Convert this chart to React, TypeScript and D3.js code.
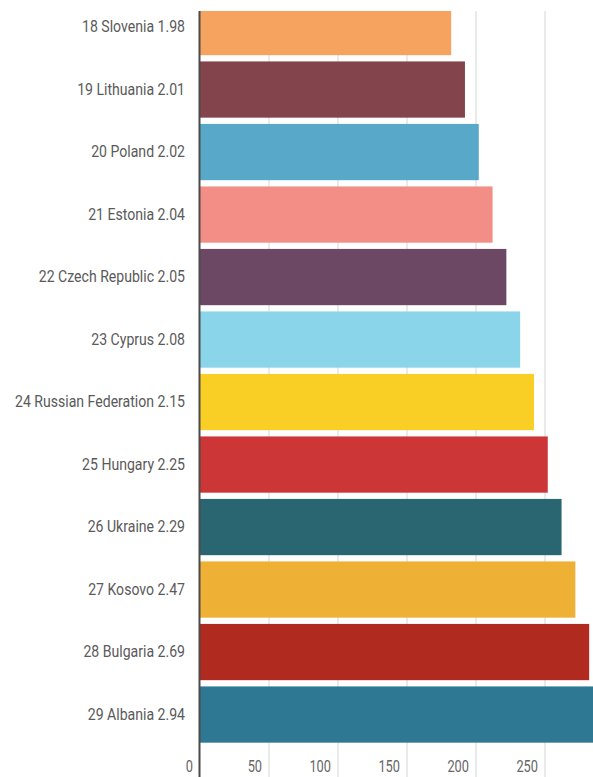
import React from "react";
import * as d3 from "d3";

const labels = [
  "18 Slovenia 1.98",
  "19 Lithuania 2.01",
  "20 Poland 2.02",
  "21 Estonia 2.04",
  "22 Czech Republic 2.05",
  "23 Cyprus 2.08",
  "24 Russian Federation 2.15",
  "25 Hungary 2.25",
  "26 Ukraine 2.29",
  "27 Kosovo 2.47",
  "28 Bulgaria 2.69",
  "29 Albania 2.94",
];
const values = [182, 192, 202, 212, 222, 232, 242, 252, 262, 272, 282, 292];
const colors = [
  "#f5a35f",
  "#83454b",
  "#58a9c9",
  "#f38e86",
  "#6d4864",
  "#8ad5ea",
  "#f9cf25",
  "#cc3636",
  "#2a6671",
  "#eeb136",
  "#b12a20",
  "#2e7893",
];
const tickValues = [0, 50, 100, 150, 200, 250];

const W = 593;
const H = 777;
const FONT = "Roboto, 'Liberation Sans', sans-serif";

export default function App() {
  const x = d3.scaleLinear().domain([0, 300]).range([200, 614]);
  const y = d3
    .scaleBand<string>()
    .domain(labels)
    .range([-4.2, 745.8])
    .paddingInner(0.1)
    .paddingOuter(0.05);

  return (
    <div style={{ position: "absolute", left: 0, top: 0, width: W, height: H, overflow: "hidden", background: "#fff" }}>
      <svg width={W} height={H} style={{ display: "block" }}>
        <defs>
          <clipPath id="plotclip">
            <rect x={0} y={11} width={W} height={H - 11} />
          </clipPath>
        </defs>
        <g clipPath="url(#plotclip)">
          {tickValues.slice(1).map((t) => (
            <line key={t} x1={x(t)} x2={x(t)} y1={11} y2={H} stroke="#dcdcdc" strokeWidth={1.2} />
          ))}
          {labels.map((l, i) => (
            <rect
              key={l}
              x={x(0)}
              y={y(l)}
              width={x(values[i]) - x(0)}
              height={y.bandwidth()}
              fill={colors[i]}
            />
          ))}
          {labels.map((l) => (
            <text
              key={"t" + l}
              transform={`translate(185,${(y(l) as number) + y.bandwidth() / 2}) scale(0.88,1)`}
              textAnchor="end"
              dominantBaseline="central"
              fontFamily={FONT}
              fontSize={16}
              fill="#5a5a5a"
            >
              {l}
            </text>
          ))}
          <line x1={199.5} x2={199.5} y1={11} y2={H} stroke="#4a4a4a" strokeWidth={2} />
          {tickValues.map((t) => (
            <text
              key={"x" + t}
              transform={`translate(${x(t) - 7},767) scale(0.8,1)`}
              textAnchor="end"
              dominantBaseline="central"
              fontFamily={FONT}
              fontSize={16}
              fill="#666"
            >
              {t}
            </text>
          ))}
        </g>
      </svg>
    </div>
  );
}
